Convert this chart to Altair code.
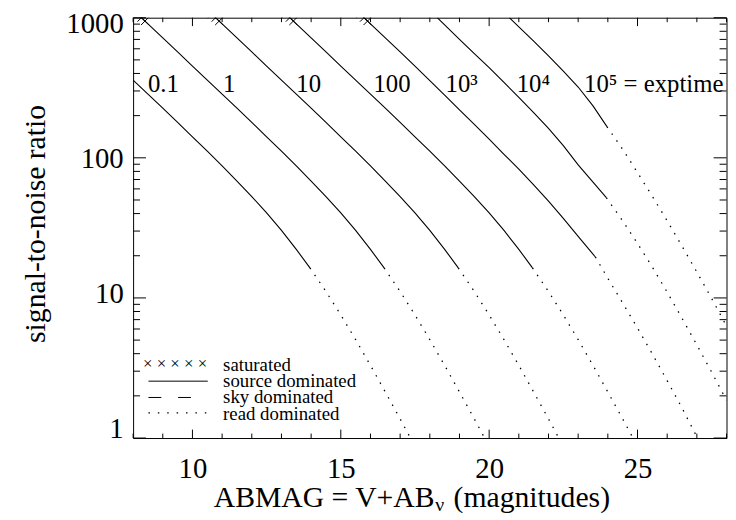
import altair as alt
import pandas as pd

# ---------------- data ----------------
# exposure time 0.1 s
mag_src_01 = [8.0, 8.5, 9.0, 9.5, 10.0, 10.5, 11.0, 11.5, 12.0, 12.5, 13.0, 13.5, 13.96]
snr_src_01 = [359, 285, 226, 179, 141, 111.5, 87.6, 68.3, 52.9, 40.4, 30.3, 22.2, 16.4]
mag_rd_01 = [13.96, 14.5, 15.0, 15.5, 16.0, 16.5, 17.0, 17.5]
snr_rd_01 = [16.4, 11.1, 7.56, 5.04, 3.30, 2.13, 1.37, 0.87]

# exposure time 1 s
mag_src_1 = [8.28, 8.5, 9.0, 9.5, 10.0, 10.5, 11.0, 11.5, 12.0, 12.5, 13.0, 13.5, 14.0, 14.5, 15.0, 15.5, 16.0, 16.46]
snr_src_1 = [1000, 903, 718, 570, 452, 359, 285, 226, 179, 141, 111.5, 87.6, 68.3, 52.9, 40.4, 30.3, 22.2, 16.4]
mag_rd_1 = [16.46, 17.0, 17.5, 18.0, 18.5, 19.0, 19.5, 20.0]
snr_rd_1 = [16.4, 11.1, 7.56, 5.04, 3.30, 2.13, 1.37, 0.87]

# exposure time 10 s
mag_src_10 = [10.78, 11.0, 11.5, 12.0, 12.5, 13.0, 13.5, 14.0, 14.5, 15.0, 15.5, 16.0, 16.5, 17.0, 17.5, 18.0, 18.5, 18.96]
snr_src_10 = [1000, 903, 718, 570, 452, 359, 285, 226, 179, 141, 111.5, 87.6, 68.3, 52.9, 40.4, 30.3, 22.2, 16.4]
mag_rd_10 = [18.96, 19.5, 20.0, 20.5, 21.0, 21.5, 22.0, 22.5]
snr_rd_10 = [16.4, 11.1, 7.56, 5.04, 3.30, 2.13, 1.37, 0.87]

# exposure time 100 s
mag_src_100 = [13.28, 13.5, 14.0, 14.5, 15.0, 15.5, 16.0, 16.5, 17.0, 17.5, 18.0, 18.5, 19.0, 19.5, 20.0, 20.5, 21.0, 21.46]
snr_src_100 = [1000, 903, 718, 570, 452, 359, 285, 226, 179, 141, 111.5, 87.6, 68.3, 52.9, 40.4, 30.3, 22.2, 16.4]
mag_rd_100 = [21.46, 22.0, 22.5, 23.0, 23.5, 24.0, 24.5, 25.0]
snr_rd_100 = [16.4, 11.1, 7.56, 5.04, 3.30, 2.13, 1.37, 0.87]

# exposure time 1e3 s
mag_src_1e3 = [15.78, 16.0, 16.5, 17.0, 17.5, 18.0, 18.5, 19.0, 19.5, 20.0, 20.5, 21.0, 21.5, 22.0, 22.5, 23.0, 23.58]
snr_src_1e3 = [1000, 903, 718, 570, 452, 355, 280, 220, 173, 136, 106, 83, 64, 49, 37, 27.5, 19.6]
mag_rd_1e3 = [23.58, 24.0, 24.5, 25.0, 25.5, 26.0, 26.5, 27.0, 27.5]
snr_rd_1e3 = [19.6, 13.8, 9.2, 6.1, 3.98, 2.57, 1.64, 1.02, 0.63]

# exposure time 1e4 s
mag_src_1e4 = [18.25, 18.5, 19.0, 19.5, 20.0, 20.5, 21.0, 21.5, 22.0, 22.5, 23.0, 23.5, 23.95]
snr_src_1e4 = [1000, 890, 700, 555, 440, 345, 270, 210, 162, 122, 89, 67, 51.9]
mag_rd_1e4 = [23.95, 24.5, 25.0, 25.5, 26.0, 26.5, 27.0, 27.5, 28.0]
snr_rd_1e4 = [51.9, 35.5, 24.5, 16.6, 11.0, 7.16, 4.62, 2.95, 1.86]

# exposure time 1e5 s
mag_src_1e5 = [20.68, 21.0, 21.5, 22.0, 22.5, 23.0, 23.5, 23.97]
snr_src_1e5 = [1000, 860, 680, 535, 415, 320, 235, 167]
mag_rd_1e5 = [23.97, 24.5, 25.0, 25.5, 26.0, 26.5, 27.0, 27.5, 28.0]
snr_rd_1e5 = [167, 115, 78.5, 53.1, 35.5, 23.4, 15.3, 9.9, 6.3]

# saturation markers (top of the plot)
sat_mag = [8.15, 8.28, 8.40, 10.65, 10.78, 10.90, 13.15, 13.28, 13.40, 15.65, 15.78, 15.90]
sat_snr = [1062, 1000, 946, 1062, 1000, 946, 1062, 1000, 946, 1062, 1000, 946]

# curve labels
lab_text = ["0.1", "1", "10", "100", "10³", "10⁴", "10⁵ = exptime"]
lab_mag = [8.5, 11.03, 13.5, 16.1, 18.53, 20.93, 23.2]
lab_snr = [336, 336, 336, 336, 336, 336, 336]

# axes ticks
x_major = [10, 15, 20, 25]
x_minor = [8, 9, 11, 12, 13, 14, 16, 17, 18, 19, 21, 22, 23, 24, 26, 27, 28]
y_major = [1, 10, 100, 1000]
y_minor = [2, 3, 4, 5, 6, 7, 8, 9, 20, 30, 40, 50, 60, 70, 80, 90,
           200, 300, 400, 500, 600, 700, 800, 900]

legend_text = ["saturated", "source dominated", "sky dominated", "read dominated"]

# ---------------- build tables ----------------
def seg(name, mags, snrs):
    return pd.DataFrame({"curve": name, "mag": mags, "snr": snrs})

src = pd.concat([
    seg("0.1", mag_src_01, snr_src_01), seg("1", mag_src_1, snr_src_1),
    seg("10", mag_src_10, snr_src_10), seg("100", mag_src_100, snr_src_100),
    seg("1e3", mag_src_1e3, snr_src_1e3), seg("1e4", mag_src_1e4, snr_src_1e4),
    seg("1e5", mag_src_1e5, snr_src_1e5)])
rd = pd.concat([
    seg("0.1", mag_rd_01, snr_rd_01), seg("1", mag_rd_1, snr_rd_1),
    seg("10", mag_rd_10, snr_rd_10), seg("100", mag_rd_100, snr_rd_100),
    seg("1e3", mag_rd_1e3, snr_rd_1e3), seg("1e4", mag_rd_1e4, snr_rd_1e4),
    seg("1e5", mag_rd_1e5, snr_rd_1e5)])
sat = pd.DataFrame({"mag": sat_mag, "snr": sat_snr})
labs = pd.DataFrame({"mag": lab_mag, "snr": lab_snr, "text": lab_text})

FONT = "Liberation Serif"
W, H = 600, 425

xs = alt.Scale(domain=[8, 28], nice=False, zero=False)
ys = alt.Scale(type="log", domain=[1, 1000], nice=False)

x_axis = alt.Axis(values=x_major, ticks=False, domain=False, grid=False,
                  labelFont=FONT, labelFontSize=29, labelColor="black",
                  labelPadding=17, title=None)
y_axis = alt.Axis(values=y_major, format="d", ticks=False, domain=False, grid=False,
                  labelFont=FONT, labelFontSize=29, labelColor="black",
                  labelPadding=10, labelFlush=True,
                  labelOffset={"condition": [
                      {"test": "datum.value == 1000", "value": -8},
                      {"test": "datum.value == 1", "value": 5},
                      {"test": "datum.value == 10", "value": -4}],
                      "value": 1},
                  title="signal-to-noise ratio", titleFont=FONT,
                  titleFontSize=30, titleFontWeight="normal", titleColor="black",
                  titleAngle=-90, titleX=-99, titleY=208,
                  titleAlign="center", titleBaseline="middle")


def X(field):
    return alt.X(field, scale=xs, axis=x_axis)


def Y(field):
    return alt.Y(field, scale=ys, axis=y_axis)


solid = alt.Chart(src).mark_line(color="black", strokeWidth=1.1, clip=True).encode(
    x=X("mag:Q"), y=Y("snr:Q"), detail="curve:N")

dotted = alt.Chart(rd).mark_line(color="black", strokeWidth=1.3, strokeDash=[1.5, 7],
                                 clip=True).encode(
    x=X("mag:Q"), y=Y("snr:Q"), detail="curve:N")

CROSS = "M-1,-1L1,1M-1,1L1,-1"
crosses = alt.Chart(sat).mark_point(shape=CROSS, size=64, filled=False, color="black",
                                    strokeWidth=1, opacity=1, clip=True).encode(
    x=X("mag:Q"), y=Y("snr:Q"))

labels = alt.Chart(labs).mark_text(font=FONT, fontSize=25, align="left",
                                   baseline="middle", color="black").encode(
    x=X("mag:Q"), y=Y("snr:Q"), text="text:N")


# tick marks (inward, IDL style)
def xticks(vals, length):
    d = pd.DataFrame({"v": vals})
    b = alt.Chart(d).mark_rule(color="black", strokeWidth=1).encode(
        x=X("v:Q"), y=alt.value(H), y2=alt.value(H - length))
    t = alt.Chart(d).mark_rule(color="black", strokeWidth=1).encode(
        x=X("v:Q"), y=alt.value(0), y2=alt.value(length))
    return [b, t]


def yticks(vals, length):
    d = pd.DataFrame({"v": vals})
    l = alt.Chart(d).mark_rule(color="black", strokeWidth=1).encode(
        y=Y("v:Q"), x=alt.value(0), x2=alt.value(length))
    r = alt.Chart(d).mark_rule(color="black", strokeWidth=1).encode(
        y=Y("v:Q"), x=alt.value(W), x2=alt.value(W - length))
    return [l, r]


ticks = xticks(x_major, 8.5) + xticks(x_minor, 4.5) + yticks(y_major, 13) + yticks(y_minor, 7)

one = alt.Data(values=[{"k": 0}])

# legend (lower left)
leg_x_text = 91
row0 = 357
leg_cross = alt.Chart(one).mark_text(font=FONT, fontSize=17, align="left",
                                     baseline="alphabetic", color="black").encode(
    x=alt.value(10), y=alt.value(row0 - 1.5), text=alt.value("× × × × ×"))
leg_t = [alt.Chart(one).mark_text(font=FONT, fontSize=19, align="left",
                                  baseline="alphabetic", color="black").encode(
    x=alt.value(leg_x_text), y=alt.value(row0 + 16.5 * i), text=alt.value(t))
    for i, t in enumerate(legend_text)]
leg_src = alt.Chart(one).mark_rule(color="black", strokeWidth=1).encode(
    x=alt.value(15.5), x2=alt.value(75.5), y=alt.value(row0 + 10.5))
leg_sky = alt.Chart(one).mark_rule(color="black", strokeWidth=1, strokeDash=[13, 17]).encode(
    x=alt.value(15.5), x2=alt.value(60), y=alt.value(row0 + 27))
leg_rd = alt.Chart(one).mark_rule(color="black", strokeWidth=1.3, strokeDash=[1.5, 8]).encode(
    x=alt.value(15.5), x2=alt.value(75.5), y=alt.value(row0 + 42.5))

# x-axis title with subscript nu
xt1 = alt.Chart(one).mark_text(font=FONT, fontSize=30, align="left",
                               baseline="alphabetic", color="black").encode(
    x=alt.value(81.5), y=alt.value(495), text=alt.value("ABMAG = V+AB"))
xt2 = alt.Chart(one).mark_text(font=FONT, fontSize=20, align="left",
                               baseline="alphabetic", color="black").encode(
    x=alt.value(305.5), y=alt.value(498.5), text=alt.value("ν"))
xt3 = alt.Chart(one).mark_text(font=FONT, fontSize=30, align="left",
                               baseline="alphabetic", color="black").encode(
    x=alt.value(324), y=alt.value(495), text=alt.value("(magnitudes)"))

chart = alt.layer(
    solid, dotted, crosses, labels, *ticks,
    leg_cross, *leg_t, leg_src, leg_sky, leg_rd, xt1, xt2, xt3
).properties(
    width=W, height=H,
    autosize=alt.AutoSizeParams(type="none"),
    padding={"left": 126.5, "top": 7, "right": 1.5, "bottom": 74},
    background="white",
).configure_view(stroke="black", strokeWidth=1)

chart.save("out.html", embed_options={"renderer": "svg", "actions": False})
